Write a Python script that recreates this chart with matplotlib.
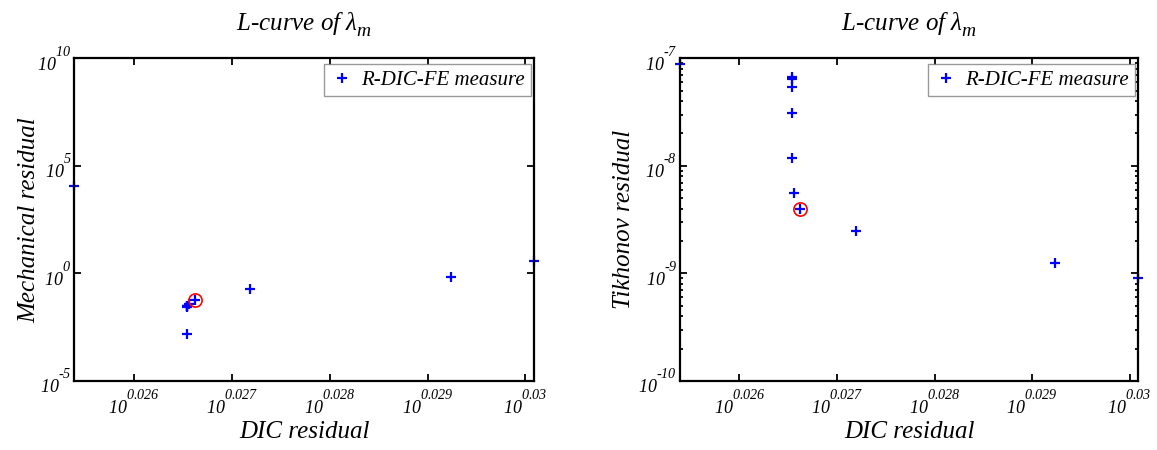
import numpy as np
import matplotlib
matplotlib.use("Agg")
import matplotlib.pyplot as plt
from matplotlib.ticker import FixedLocator, FixedFormatter, NullLocator, LogLocator

try:
    import matplotlib._mathtext as _mt
    _mt.FontConstantsBase.sup1 = 1.6
    _mt.FontConstantsBase.sub1 = 0.5
    _mt.SHRINK_FACTOR = 0.78
except Exception:
    pass

# ---- data (log10 exponents) ----
dic_residual_exp = [0.02539, 0.02654, 0.02654, 0.02654, 0.02654, 0.02654,
                    0.02656, 0.02662, 0.02719, 0.02924, 0.03009]
mech_residual_exp = [4.07, -1.53, -1.50, -1.55, -2.80, -1.52,
                     -1.41, -1.24, -0.74, -0.15, 0.59]
tikh_residual_exp = [-7.05, -7.17, -7.19, -7.27, -7.51, -7.93,
                     -8.25, -8.40, -8.61, -8.90, -9.04]
selected_index = 7

x_tick_exp = [0.026, 0.027, 0.028, 0.029, 0.030]
x_tick_labels = [r'$10^{0.026}$', r'$10^{0.027}$', r'$10^{0.028}$', r'$10^{0.029}$', r'$10^{0.03}$']
mech_tick_exp = [-5, 0, 5, 10]
mech_tick_labels = [r'$10^{\text{-}5}$', r'$10^{0}$', r'$10^{5}$', r'$10^{10}$']
tikh_tick_exp = [-10, -9, -8, -7]
tikh_tick_labels = [r'$10^{\text{-}10}$', r'$10^{\text{-}9}$', r'$10^{\text{-}8}$', r'$10^{\text{-}7}$']

title_text = r'L-curve of $\lambda_{m}$'
legend_label = 'R-DIC-FE measure'

# ---- style ----
plt.rcParams['font.family'] = ['Liberation Serif', 'DejaVu Serif']
plt.rcParams['font.style'] = 'italic'
plt.rcParams['mathtext.fontset'] = 'custom'
plt.rcParams['mathtext.rm'] = 'Liberation Serif:italic'
plt.rcParams['mathtext.it'] = 'Liberation Serif:italic'
plt.rcParams['mathtext.bf'] = 'Liberation Serif:italic:bold'

fig = plt.figure(figsize=(11.57, 4.5), dpi=100)
W, H = 1157, 450
TOP, BOTTOM = 58.3, 381.0

def make_axes(left_px, right_px):
    return fig.add_axes([left_px / W, (H - BOTTOM) / H,
                         (right_px - left_px) / W, (BOTTOM - TOP) / H])

x = 10.0 ** np.array(dic_residual_exp)
panels = [
    (74.3, 534.3, 10.0 ** np.array(mech_residual_exp), 'Mechanical residual',
     mech_tick_exp, mech_tick_labels, -0.097, False),
    (680.0, 1138.3, 10.0 ** np.array(tikh_residual_exp), 'Tikhonov residual',
     tikh_tick_exp, tikh_tick_labels, -0.122, True),
]

for lpx, rpx, y, ylabel, yt_exp, yt_lab, ylab_x, minor in panels:
    ax = make_axes(lpx, rpx)
    ax.set_xscale('log')
    ax.set_yscale('log')
    ax.plot(x, y, linestyle='none', marker='+', color='#0000ff', markersize=6.5,
            markeredgewidth=1.6, clip_on=False, zorder=2, label=legend_label)
    ax.plot(x[selected_index], y[selected_index], linestyle='none', marker='o',
            markerfacecolor='none', markeredgecolor='#ff0000', markersize=9.5,
            markeredgewidth=1.2, clip_on=False, zorder=2)
    ax.set_xlim(10.0 ** min(dic_residual_exp), 10.0 ** max(dic_residual_exp))
    ax.set_ylim(10.0 ** yt_exp[0], 10.0 ** yt_exp[-1])

    ax.xaxis.set_major_locator(FixedLocator(10.0 ** np.array(x_tick_exp)))
    ax.xaxis.set_major_formatter(FixedFormatter(x_tick_labels))
    ax.xaxis.set_minor_locator(NullLocator())
    ax.yaxis.set_major_locator(FixedLocator(10.0 ** np.array(yt_exp, dtype=float)))
    ax.yaxis.set_major_formatter(FixedFormatter(yt_lab))
    if minor:
        ax.yaxis.set_minor_locator(LogLocator(base=10, subs=np.arange(2, 10), numticks=20))
    else:
        ax.yaxis.set_minor_locator(NullLocator())
    ax.yaxis.set_minor_formatter(plt.NullFormatter())

    ax.tick_params(which='both', direction='in', top=True, right=True,
                   labelsize=13, width=1.3, color='black')
    ax.tick_params(which='major', length=5)
    ax.tick_params(axis='x', which='major', pad=6)
    ax.tick_params(axis='y', which='major', pad=2)
    ax.tick_params(which='minor', length=2.5)
    for s in ax.spines.values():
        s.set_linewidth(1.6)
        s.set_zorder(3)

    ax.set_xlabel('DIC residual', fontsize=18, va='center')
    ax.xaxis.set_label_coords(0.5, -0.158)
    ax.set_ylabel(ylabel, fontsize=18, va='center')
    ax.yaxis.set_label_coords(ylab_x, 0.5)
    ax.set_title(title_text, fontsize=18, y=1.089, pad=0)

    anchor = ((rpx - 3.3 - lpx) / (rpx - lpx), (BOTTOM - 64) / (BOTTOM - TOP))
    leg = ax.legend(loc='upper right', bbox_to_anchor=anchor, fontsize=15,
                    frameon=True, fancybox=False, handlelength=1.2,
                    handletextpad=0.3, borderaxespad=0.0, borderpad=0.3,
                    numpoints=1)
    leg.get_frame().set_edgecolor('#808080')
    leg.get_frame().set_linewidth(1.0)

fig.savefig('out.png', dpi=100)
